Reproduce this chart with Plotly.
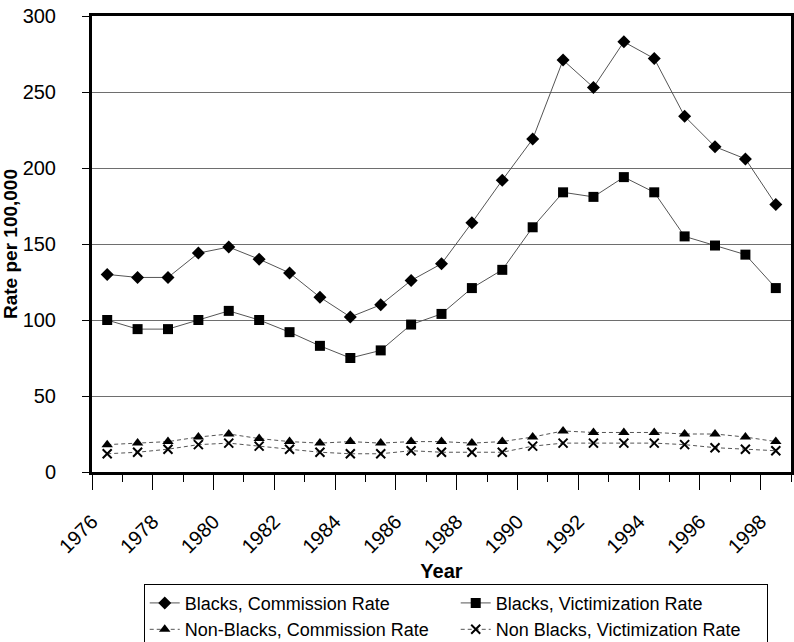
import plotly.graph_objects as go

years = list(range(1976, 1999))

blacks_commission = [130, 128, 128, 144, 148, 140, 131, 115, 102, 110, 126, 137,
                     164, 192, 219, 271, 253, 283, 272, 234, 214, 206, 176]
blacks_victimization = [100, 94, 94, 100, 106, 100, 92, 83, 75, 80, 97, 104,
                        121, 133, 161, 184, 181, 194, 184, 155, 149, 143, 121]
nonblacks_commission = [18, 19, 20, 23, 25, 22, 20, 19, 20, 19, 20, 20,
                        19, 20, 23, 27, 26, 26, 26, 25, 25, 23, 20]
nonblacks_victimization = [12, 13, 15, 18, 19, 17, 15, 13, 12, 12, 14, 13,
                           13, 13, 17, 19, 19, 19, 19, 18, 16, 15, 14]

label_years = years[::2]

FONT = "Liberation Sans, Arial, sans-serif"

fig = go.Figure()

series = [
    ("Blacks, Commission Rate", blacks_commission, "diamond", 10, "solid"),
    ("Blacks, Victimization Rate", blacks_victimization, "square", 10, "solid"),
    ("Non-Blacks, Commission Rate", nonblacks_commission, "triangle-up", 10, "4px,3px"),
    ("Non Blacks, Victimization Rate", nonblacks_victimization, "x-thin", 9, "4px,3px"),
]

for name, vals, sym, size, dash in series:
    fig.add_trace(go.Scatter(
        x=years, y=vals, name=name, mode="lines+markers",
        line=dict(color="#555555", width=1, dash=dash),
        marker=dict(symbol=sym, size=size, color="black",
                    line=dict(color="black", width=2 if sym == "x-thin" else 0)),
    ))

fig.update_layout(
    width=794, height=642,
    margin=dict(l=92, r=3, t=16, b=170, autoexpand=False),
    plot_bgcolor="white", paper_bgcolor="white",
    font=dict(family=FONT, color="black", size=16),
    legend=dict(
        orientation="h", x=0.074, y=-0.245, xanchor="left", yanchor="top",
        entrywidth=266, bordercolor="black", borderwidth=1,
        font=dict(size=18), tracegroupgap=0, itemwidth=30,
    ),
    xaxis=dict(
        range=[years[0] - 0.5, years[-1] + 0.5],
        tickvals=[y - 0.5 for y in label_years],
        ticktext=[str(y) for y in label_years],
        tickangle=-45, tickfont=dict(size=20), ticklabelstandoff=12,
        ticks="outside", ticklen=15, tickcolor="black", tickwidth=1,
        minor=dict(tickvals=[y - 0.5 for y in years] + [years[-1] + 0.5],
                   ticks="outside", ticklen=7, tickcolor="black", tickwidth=1,
                   showgrid=False),
        showgrid=False, zeroline=False,
        showline=True, linecolor="black", linewidth=3, mirror=True,
        title=dict(text="<b>Year</b>", font=dict(size=20), standoff=8),
    ),
    yaxis=dict(
        range=[0, 300], dtick=50, tickfont=dict(size=20), ticklabelstandoff=22,
        ticklabeloverflow="allow",
        ticks="outside", ticklen=7, tickcolor="black",
        showgrid=True, gridcolor="#6e6e6e", gridwidth=1, zeroline=False,
        showline=True, linecolor="black", linewidth=3, mirror=True,
        title=dict(text="<b>Rate per 100,000</b>", font=dict(size=19), standoff=4),
    ),
)

# drop the page's default body margin so the figure fills the window
fig.write_html("out.html", config={"displayModeBar": False},
               post_script="document.body.style.margin='0';")
